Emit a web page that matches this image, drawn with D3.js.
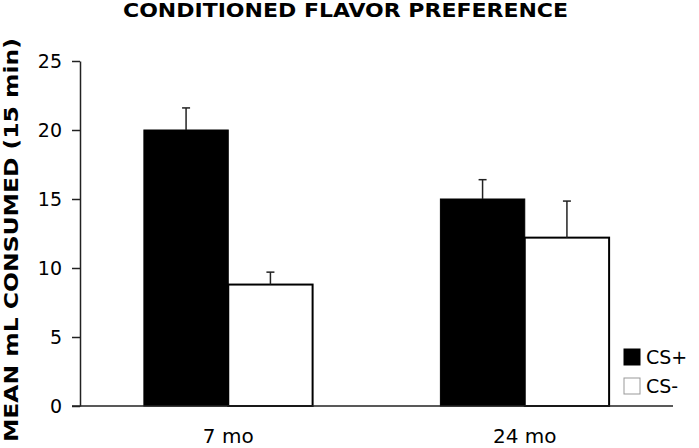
<!DOCTYPE html>
<html>
<head>
<meta charset="utf-8">
<script src="https://cdn.jsdelivr.net/npm/d3@7"></script>
<style>
  html, body { margin: 0; padding: 0; background: #fff; }
  svg { display: block; }
  text { font-family: Verdana, "DejaVu Sans", sans-serif; fill: #000; }
</style>
</head>
<body>
<svg id="chart" width="699" height="448"></svg>
<script>
const categories = ["7 mo", "24 mo"];
const seriesNames = ["CS+", "CS-"];
const csPlus = [20.0, 15.0];
const csMinus = [8.8, 12.2];
const csPlusErr = [1.6, 1.4];
const csMinusErr = [0.9, 2.65];
const yTicks = [0, 5, 10, 15, 20, 25];

const svg = d3.select("#chart");
const mLeft = 80, mRight = 673, mTop = 61, mBottom = 406;

const x = d3.scaleBand().domain(categories).range([mLeft, mRight])
  .paddingInner(0.431).paddingOuter(0.2155);
const xs = d3.scaleBand().domain(seriesNames).range([0, x.bandwidth()]);
const y = d3.scaleLinear().domain([0, 25]).range([mBottom, mTop]);

const data = [];
categories.forEach((c, i) => {
  data.push({cat: c, s: "CS+", v: csPlus[i], e: csPlusErr[i]});
  data.push({cat: c, s: "CS-", v: csMinus[i], e: csMinusErr[i]});
});

// title
svg.append("text").attr("x", 345.5).attr("y", 17).attr("text-anchor", "middle")
  .attr("textLength", 445).attr("lengthAdjust", "spacingAndGlyphs")
  .style("font-size", "19px").style("font-weight", "bold")
  .text("CONDITIONED FLAVOR PREFERENCE");

// y axis label
svg.append("text").attr("transform", "translate(18,240) rotate(-90)")
  .attr("text-anchor", "middle")
  .attr("textLength", 404).attr("lengthAdjust", "spacingAndGlyphs")
  .style("font-size", "19px").style("font-weight", "bold")
  .text("MEAN mL CONSUMED (15 min)");

// bars
svg.selectAll("rect.bar").data(data).enter().append("rect")
  .attr("class", "bar")
  .attr("x", d => x(d.cat) + xs(d.s))
  .attr("y", d => y(d.v))
  .attr("width", xs.bandwidth())
  .attr("height", d => y(0) - y(d.v))
  .attr("fill", d => d.s === "CS+" ? "#000" : "#fff")
  .attr("stroke", "#000").attr("stroke-width", d => d.s === "CS+" ? 1 : 2);

// error bars
const eb = svg.selectAll("g.err").data(data).enter().append("g").attr("class", "err");
eb.append("line")
  .attr("x1", d => x(d.cat) + xs(d.s) + xs.bandwidth() / 2)
  .attr("x2", d => x(d.cat) + xs(d.s) + xs.bandwidth() / 2)
  .attr("y1", d => y(d.v)).attr("y2", d => y(d.v + d.e))
  .attr("stroke", "#222").attr("stroke-width", 1.5);
eb.append("line")
  .attr("x1", d => x(d.cat) + xs(d.s) + xs.bandwidth() / 2 - 4)
  .attr("x2", d => x(d.cat) + xs(d.s) + xs.bandwidth() / 2 + 4)
  .attr("y1", d => y(d.v + d.e)).attr("y2", d => y(d.v + d.e))
  .attr("stroke", "#222").attr("stroke-width", 1.5);

// y axis
const yAxis = d3.axisLeft(y).tickValues(yTicks).tickSize(8).tickSizeOuter(0).tickPadding(10);
const gy = svg.append("g").attr("transform", `translate(${mLeft},0)`).call(yAxis);
gy.select(".domain").attr("stroke", "#222").attr("stroke-width", 1.5);
gy.selectAll(".tick line").attr("stroke", "#222").attr("stroke-width", 1.5);
gy.selectAll(".tick text").style("font-size", "19px").style("font-family", "Verdana, 'DejaVu Sans', sans-serif").attr("fill", "#000");

// x axis
const xAxis = d3.axisBottom(x).tickSize(0).tickSizeOuter(0).tickPadding(23);
const gx = svg.append("g").attr("transform", `translate(0,${mBottom})`).call(xAxis);
gx.select(".domain").attr("stroke", "#222").attr("stroke-width", 1.5)
  .attr("d", `M${mLeft - 8},0H${mRight}`);
gx.selectAll(".tick text").style("font-size", "20px").style("font-family", "Verdana, 'DejaVu Sans', sans-serif").attr("fill", "#000");

// legend
const leg = svg.append("g").attr("transform", "translate(624,349)");
seriesNames.forEach((s, i) => {
  leg.append("rect").attr("x", 0).attr("y", i * 29).attr("width", 16).attr("height", 16)
    .attr("fill", s === "CS+" ? "#000" : "#fff")
    .attr("stroke", s === "CS+" ? "#000" : "#999").attr("stroke-width", 1);
  leg.append("text").attr("x", 22).attr("y", i * 29 + 8).attr("dy", "0.36em")
    .style("font-size", "19px").text(s);
});
</script>
</body>
</html>
